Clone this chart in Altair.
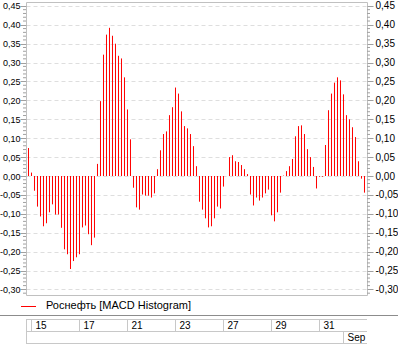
import altair as alt
import pandas as pd

# ---- data ----
values = [
    0.074, 0.009, -0.039, -0.081, -0.107, -0.133, -0.125, -0.096, -0.075, -0.102,
    -0.102, -0.137, -0.194, -0.207, -0.246, -0.225, -0.215, -0.207, -0.136, -0.131,
    -0.154, -0.183, -0.163, 0.032, 0.198, 0.321, 0.374, 0.392, 0.371, 0.350,
    0.318, 0.311, 0.261, 0.176, 0.097, -0.031, -0.083, -0.089, -0.049, -0.052,
    -0.052, -0.057, -0.046, 0.018, 0.068, 0.111, 0.118, 0.161, 0.182, 0.234,
    0.218, 0.171, 0.132, 0.126, 0.111, 0.079, 0.026, -0.068, -0.089, -0.112,
    -0.136, -0.133, -0.112, -0.081, -0.086, -0.028, 0.000, 0.050, 0.055, 0.039,
    0.037, 0.029, 0.018, 0.005, -0.049, -0.078, -0.057, -0.065, -0.057, -0.046,
    -0.036, -0.104, -0.120, -0.096, -0.044, 0.001, 0.013, 0.026, 0.045, 0.105,
    0.132, 0.134, 0.111, 0.071, 0.050, 0.024, -0.033, -0.002, -0.002, 0.082,
    0.174, 0.218, 0.247, 0.261, 0.253, 0.216, 0.161, 0.150, 0.129, 0.103,
    0.039, -0.007, -0.044,
]
day_labels = ["15", "17", "21", "23", "27", "29", "31"]
day_index = [1, 17, 33, 49, 65, 81, 97]
month_labels = ["Sep"]
month_index = [105]
y_ticks = [-0.30, -0.25, -0.20, -0.15, -0.10, -0.05, 0.00, 0.05, 0.10,
           0.15, 0.20, 0.25, 0.30, 0.35, 0.40, 0.45]
minor_ticks = [round(k / 100, 2) for k in range(-31, 46) if k % 5 != 0]
series_name = "Роснефть [MACD Histogram]"

# ---- layout ----
W, H = 341, 293
FONT = "Liberation Sans"
xdom = [-0.8333, -0.8333 + W / 3]
ydom = [-(H - 174) / 378, 174 / 378]
x_scale = alt.Scale(domain=xdom, nice=False, zero=False)
y_scale = alt.Scale(domain=ydom, nice=False, zero=False)
label_expr = "replace(replace(format(datum.value, '.2f'), '.', ','), '\u2212', '-')"

bars_df = pd.DataFrame({"i": list(range(len(values))), "v": values,
                        "z": [0.0] * len(values)})
days_df = pd.DataFrame({"i": day_index, "label": day_labels})
months_df = pd.DataFrame({"i": month_index, "label": month_labels})
minor_df = pd.DataFrame({"t": minor_ticks})
legend_df = pd.DataFrame({"name": [series_name]})

GRID = "#dedede"
TICK = "#a0a0a0"
BOX = "#c8c8c8"

left_axis = alt.Axis(values=y_ticks, orient="left", grid=True, gridDash=[4, 3],
                     gridColor=GRID, domain=False, tickSize=6, tickColor=TICK,
                     labelExpr=label_expr, labelFont=FONT, labelFontSize=9,
                     labelColor="#000000", labelPadding=0, title=None)
right_axis = alt.Axis(values=y_ticks, orient="right", grid=False, domain=False,
                      tickSize=6, tickColor=TICK, labelExpr=label_expr,
                      labelFont=FONT, labelFontSize=10, labelColor="#000000",
                      labelPadding=2, title=None)
x_axis = alt.Axis(values=day_index, grid=True, gridDash=[4, 3], gridColor=GRID,
                  labels=False, ticks=False, domain=False, title=None)

bars = alt.Chart(bars_df).mark_rule(color="#ff0000", strokeWidth=1).encode(
    x=alt.X("i:Q", scale=x_scale, axis=x_axis),
    y=alt.Y("v:Q", scale=y_scale, axis=left_axis),
    y2="z:Q",
)
right = alt.Chart(bars_df).mark_point(opacity=0).encode(
    x=alt.X("i:Q", scale=x_scale, axis=None),
    y=alt.Y("v:Q", scale=y_scale, axis=right_axis),
)
minor_left = alt.Chart(minor_df).mark_rule(color=TICK, strokeWidth=1).encode(
    y=alt.Y("t:Q", scale=y_scale, axis=None),
    x=alt.value(-3), x2=alt.value(0),
)
minor_right = alt.Chart(minor_df).mark_rule(color=TICK, strokeWidth=1).encode(
    y=alt.Y("t:Q", scale=y_scale, axis=None),
    x=alt.value(W), x2=alt.value(W + 3),
)

# legend
leg_line = alt.Chart(legend_df).mark_rule(color="#ff0000", strokeWidth=1).encode(
    x=alt.value(-5), x2=alt.value(10), y=alt.value(304.5))
leg_text = alt.Chart(legend_df).mark_text(
    align="left", baseline="middle", font=FONT, fontSize=11, color="#000000"
).encode(x=alt.value(20), y=alt.value(304), text="name:N")

# separator line between legend and time axis
sep = alt.Chart(legend_df).mark_rule(color="#8c8c8c", strokeWidth=1).encode(
    x=alt.value(-26), x2=alt.value(W + 31), y=alt.value(313.5))

# time axis boxes
hlines = alt.Chart(pd.DataFrame({"yy": [317.5, 329.5, 341.5]})).mark_rule(
    color=BOX, strokeWidth=1).encode(
    x=alt.value(0), x2=alt.value(W), y=alt.Y("yy:Q", scale=None))
left_edge = alt.Chart(legend_df).mark_rule(color=BOX, strokeWidth=1).encode(
    x=alt.value(0.5), y=alt.value(317.5), y2=alt.value(341.5))
day_sep = alt.Chart(days_df).mark_rule(color=BOX, strokeWidth=1).encode(
    x=alt.X("i:Q", scale=x_scale, axis=None),
    y=alt.value(317.5), y2=alt.value(329.5))
day_text = alt.Chart(days_df).mark_text(
    align="left", baseline="middle", dx=4, font=FONT, fontSize=10, color="#000000"
).encode(x=alt.X("i:Q", scale=x_scale, axis=None), y=alt.value(323.5),
         text="label:N")
month_sep = alt.Chart(months_df).mark_rule(color=BOX, strokeWidth=1).encode(
    x=alt.X("i:Q", scale=x_scale, axis=None),
    y=alt.value(329.5), y2=alt.value(341.5))
month_text = alt.Chart(months_df).mark_text(
    align="left", baseline="middle", dx=4, font=FONT, fontSize=10, color="#000000"
).encode(x=alt.X("i:Q", scale=x_scale, axis=None), y=alt.value(335.5),
         text="label:N")

chart = alt.layer(
    bars, right, minor_left, minor_right, leg_line, leg_text, sep,
    hlines, left_edge, day_sep, day_text, month_sep, month_text,
).resolve_axis(y="independent").properties(
    width=W, height=H,
    autosize=alt.AutoSizeParams(type="none"),
    padding={"left": 26, "top": 2, "right": 31, "bottom": 57},
    background="#ffffff",
).configure_view(stroke="#c0c0c0", strokeWidth=1)

chart.save("out.html", embed_options={"renderer": "svg", "actions": False})
